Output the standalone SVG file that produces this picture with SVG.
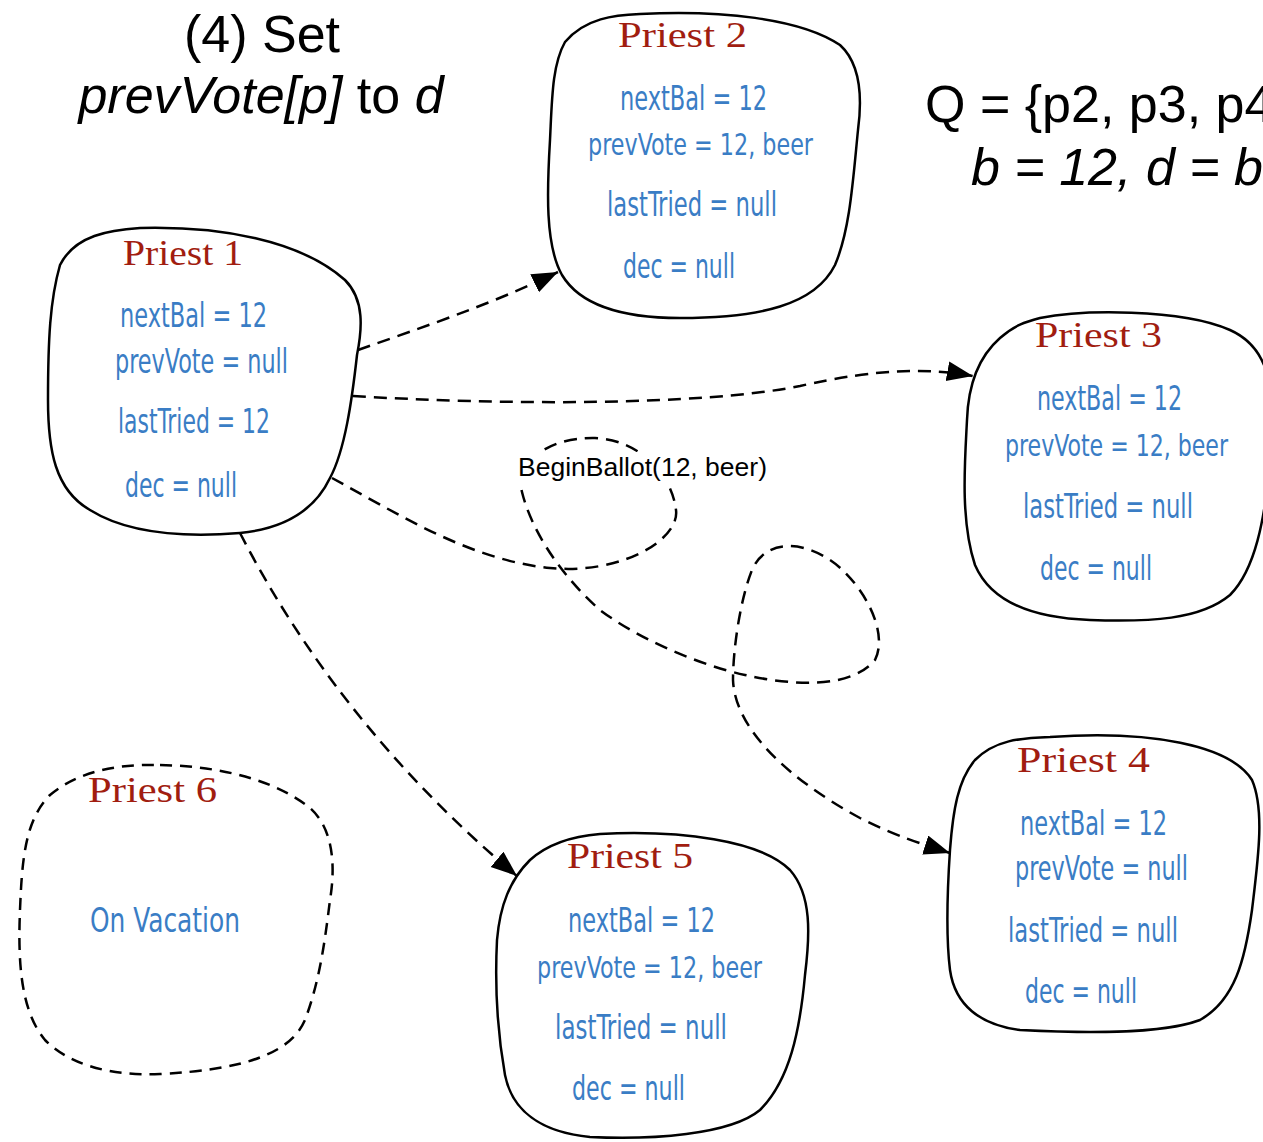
<svg xmlns="http://www.w3.org/2000/svg" width="1263" height="1142" viewBox="0 0 1263 1142">
  <style>
    .blob { fill: #ffffff; stroke: #000000; stroke-width: 2.5; }
    .blob.away { fill: none; stroke-dasharray: 12 8; }
    .title { font-family: "Liberation Sans", Arial, sans-serif; font-size: 52px; fill: #000000; }
    .it { font-style: italic; }
    .name { font-family: "Liberation Serif", "DejaVu Serif", serif; font-size: 36px; fill: #a11d10; }
    .field { font-family: "Liberation Sans Narrow", "DejaVu Sans Condensed", "Liberation Sans", sans-serif; font-size: 33px; fill: #3a7dc5; }
    .field.wide { font-size: 30px; }
    .msg { font-family: "Liberation Sans", Arial, sans-serif; font-size: 26.5px; fill: #000000; }
    .edge { fill: none; stroke: #000000; stroke-width: 2.5; stroke-dasharray: 13 8; }
  </style>
  <defs>
    <marker id="head" markerUnits="userSpaceOnUse" markerWidth="28" markerHeight="22" refX="26" refY="10" orient="auto">
      <path d="M0,0 L26,10 L0,20 Z" fill="#000000"/>
    </marker>
  </defs>

  <rect width="1263" height="1142" fill="#ffffff"/>

  <!-- headings -->
  <g id="step-title">
    <text class="title" x="262" y="52" text-anchor="middle">(4) Set</text>
    <text class="title" x="261" y="113" text-anchor="middle"><tspan class="it">prevVote[p]</tspan> to <tspan class="it">d</tspan></text>
  </g>
  <g id="quorum">
    <text class="title" x="925" y="122">Q = {p2, p3, p4</text>
    <text class="title it" x="971" y="185">b = 12, d = b</text>
  </g>

  <!-- messages -->
  <g id="connectors">
    <path class="edge" d="M358,350 C 420,328 490,305 558,272" marker-end="url(#head)"/>
    <path class="edge" d="M353,396 C 500,405 700,406 800,386 C 880,368 930,368 973,376" marker-end="url(#head)"/>
    <path class="edge" d="M332,478 C 400,515 470,560 550,568 C 620,575 680,540 676,510 C 672,475 640,440 595,438 C 545,437 515,465 522,492 C 530,525 555,570 600,610 C 640,640 700,665 745,675 C 790,685 850,690 875,660 C 890,630 860,580 830,560 C 800,540 765,540 752,570 C 740,600 733,650 733,680 C 735,730 790,780 860,818 C 895,836 925,845 950,853" marker-end="url(#head)"/>
    <path class="edge" d="M240,533 C 300,650 390,770 517,876" marker-end="url(#head)"/>
    <rect x="515" y="452" width="256" height="31" fill="#ffffff"/>
    <text class="msg" x="518" y="476">BeginBallot(12, beer)</text>
  </g>

  <!-- priests -->
  <g id="priest1">
    <path class="blob" d="M140,228 C 220,226 300,240 345,280 C 365,300 362,330 357,355 C 352,400 345,450 330,478 C 310,520 270,530 240,533 C 190,537 130,535 90,510 C 55,490 48,450 48,400 C 48,340 50,300 60,265 C 75,235 110,230 140,228 Z"/>
    <text class="name" x="123" y="265" textLength="120" lengthAdjust="spacingAndGlyphs">Priest 1</text>
    <text class="field" x="120" y="327" textLength="147" lengthAdjust="spacingAndGlyphs">nextBal =  12</text>
    <text class="field" x="115" y="373" textLength="173" lengthAdjust="spacingAndGlyphs">prevVote = null</text>
    <text class="field" x="118" y="433" textLength="152" lengthAdjust="spacingAndGlyphs">lastTried = 12</text>
    <text class="field" x="125" y="497" textLength="112" lengthAdjust="spacingAndGlyphs">dec = null</text>
  </g>

  <g id="priest2">
    <path class="blob" d="M640,14 C 720,10 800,18 840,45 C 862,65 862,100 858,130 C 853,180 850,230 835,265 C 815,305 760,318 680,318 C 620,318 580,305 562,275 C 545,245 547,190 550,140 C 552,100 552,65 565,42 C 585,18 615,15 640,14 Z"/>
    <text class="name" x="618" y="47" textLength="129" lengthAdjust="spacingAndGlyphs">Priest 2</text>
    <text class="field" x="620" y="110" textLength="147" lengthAdjust="spacingAndGlyphs">nextBal =  12</text>
    <text class="field wide" x="588" y="155" textLength="225" lengthAdjust="spacingAndGlyphs">prevVote = 12, beer</text>
    <text class="field" x="607" y="216" textLength="170" lengthAdjust="spacingAndGlyphs">lastTried = null</text>
    <text class="field" x="623" y="278" textLength="112" lengthAdjust="spacingAndGlyphs">dec = null</text>
  </g>

  <!-- right-aligned lines here, as the shape runs to the page edge -->
  <g id="priest3">
    <path class="blob" d="M1040,318 C 1080,310 1180,308 1230,330 C 1275,350 1275,400 1270,460 C 1265,520 1255,570 1230,595 C 1200,620 1150,622 1090,620 C 1030,618 990,600 975,565 C 960,520 965,460 967,420 C 968,390 975,360 1000,338 C 1015,325 1025,322 1040,318 Z"/>
    <text class="name" x="1162" y="347" text-anchor="end" textLength="127" lengthAdjust="spacingAndGlyphs">Priest 3</text>
    <text class="field" x="1182" y="410" text-anchor="end" textLength="145" lengthAdjust="spacingAndGlyphs">nextBal =  12</text>
    <text class="field wide" x="1228" y="456" text-anchor="end" textLength="223" lengthAdjust="spacingAndGlyphs">prevVote = 12, beer</text>
    <text class="field" x="1193" y="518" text-anchor="end" textLength="170" lengthAdjust="spacingAndGlyphs">lastTried = null</text>
    <text class="field" x="1152" y="580" text-anchor="end" textLength="112" lengthAdjust="spacingAndGlyphs">dec = null</text>
  </g>

  <g id="priest4">
    <path class="blob" d="M1050,737 C 1150,730 1230,745 1252,780 C 1265,810 1258,860 1252,910 C 1245,960 1235,1000 1200,1020 C 1160,1035 1080,1033 1020,1030 C 980,1025 955,1005 950,970 C 945,930 948,880 950,850 C 953,810 958,780 975,760 C 995,740 1020,738 1050,737 Z"/>
    <text class="name" x="1017" y="772" textLength="133" lengthAdjust="spacingAndGlyphs">Priest 4</text>
    <text class="field" x="1020" y="835" textLength="147" lengthAdjust="spacingAndGlyphs">nextBal =  12</text>
    <text class="field" x="1015" y="880" textLength="173" lengthAdjust="spacingAndGlyphs">prevVote = null</text>
    <text class="field" x="1008" y="942" textLength="170" lengthAdjust="spacingAndGlyphs">lastTried = null</text>
    <text class="field" x="1025" y="1003" textLength="112" lengthAdjust="spacingAndGlyphs">dec = null</text>
  </g>

  <g id="priest5">
    <path class="blob" d="M600,834 C 680,830 760,840 790,870 C 812,895 810,935 805,975 C 800,1030 790,1080 760,1110 C 730,1135 650,1140 590,1137 C 540,1132 512,1110 505,1075 C 497,1030 495,980 497,940 C 500,905 510,880 530,860 C 550,842 575,836 600,834 Z"/>
    <text class="name" x="567" y="868" textLength="126" lengthAdjust="spacingAndGlyphs">Priest 5</text>
    <text class="field" x="568" y="932" textLength="147" lengthAdjust="spacingAndGlyphs">nextBal =  12</text>
    <text class="field wide" x="537" y="978" textLength="225" lengthAdjust="spacingAndGlyphs">prevVote = 12, beer</text>
    <text class="field" x="555" y="1039" textLength="172" lengthAdjust="spacingAndGlyphs">lastTried = null</text>
    <text class="field" x="572" y="1100" textLength="113" lengthAdjust="spacingAndGlyphs">dec = null</text>
  </g>

  <g id="priest6">
    <path class="blob away" d="M160,765 C 220,766 275,780 310,808 C 335,830 335,870 330,900 C 325,940 320,980 305,1020 C 290,1055 240,1070 160,1074 C 110,1076 70,1065 45,1040 C 20,1010 18,960 20,910 C 22,860 25,820 50,795 C 80,770 120,764 160,765 Z"/>
    <text class="name" x="88" y="802" textLength="129" lengthAdjust="spacingAndGlyphs">Priest 6</text>
    <text class="field" x="90" y="932" textLength="150" lengthAdjust="spacingAndGlyphs">On Vacation</text>
  </g>
</svg>
